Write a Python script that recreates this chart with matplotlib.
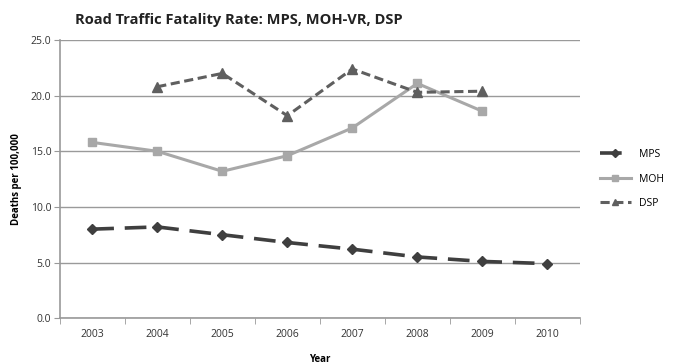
import numpy as np
import matplotlib; matplotlib.use("Agg")
import matplotlib.pyplot as plt
from matplotlib.ticker import FixedLocator

years = ["2003", "2004", "2005", "2006", "2007", "2008", "2009", "2010"]
mps = [8.0, 8.2, 7.5, 6.8, 6.2, 5.5, 5.1, 4.9]
moh = [15.8, 15.0, 13.2, 14.6, 17.1, 21.1, 18.6, np.nan]
dsp = [np.nan, 20.8, 22.0, 18.2, 22.4, 20.3, 20.4, np.nan]
yticks = [0, 5, 10, 15, 20, 25]

plt.rcParams["font.family"] = ["Open Sans", "DejaVu Sans"]
fig = plt.figure(figsize=(6.79, 3.64), dpi=100)
ax = fig.add_axes([0.088, 0.126, 0.766, 0.764])
x = np.arange(len(years))

ax.plot(x, mps, color="#3f3f3f", lw=2.6, ls=(0, (6, 3)), marker="D", ms=5.5, label="MPS", zorder=3)
ax.plot(x, moh, color="#a8a8a8", lw=2.2, marker="s", ms=6, label="MOH", zorder=3)
ax.plot(x, dsp, color="#5f5f5f", lw=2.2, ls=(0, (3, 1.5)), marker="^", ms=6.5, label="DSP", zorder=3)

ax.set_xlim(-0.5, len(years) - 0.5)
ax.set_ylim(0, 25)
ax.set_yticks(yticks)
ax.set_yticklabels([f"{v:.1f}" for v in yticks], fontsize=7.5, color="#333333")
ax.set_xticks(x)
ax.set_xticklabels(years, fontsize=7.5, color="#333333")
ax.xaxis.set_minor_locator(FixedLocator(np.arange(-0.5, len(years), 1.0)))
ax.tick_params(axis="x", which="major", length=0, pad=8)
ax.tick_params(axis="x", which="minor", length=4, color="#999999")
ax.tick_params(axis="y", length=4, color="#999999", pad=2)
ax.yaxis.grid(True, color="#9a9a9a", lw=1.0)
ax.set_axisbelow(True)
for s in ["top", "right"]:
    ax.spines[s].set_visible(False)
for s in ["left", "bottom"]:
    ax.spines[s].set_color("#999999")
    ax.spines[s].set_linewidth(1.2)

ax.set_xlabel("Year", fontsize=7, fontweight="bold", labelpad=10)
ax.set_ylabel("Deaths per 100,000", fontsize=7, fontweight="bold", labelpad=6)
fig.text(0.11, 0.935, "Road Traffic Fatality Rate: MPS, MOH-VR, DSP", fontsize=10.5, fontweight="bold", color="#222222")
ax.legend(loc="center left", bbox_to_anchor=(1.02, 0.5), frameon=False, fontsize=7.5,
          handlelength=3, labelspacing=1.3, markerscale=0.75)

fig.savefig("out.png", dpi=100)
